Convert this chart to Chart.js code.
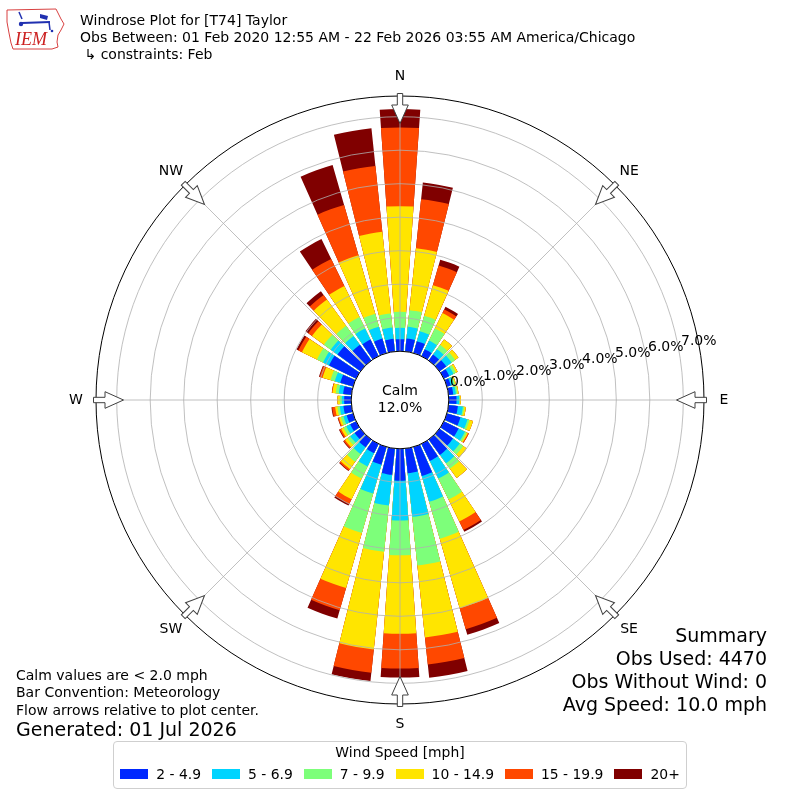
<!DOCTYPE html>
<html>
<head>
<meta charset="utf-8">
<script src="https://cdn.jsdelivr.net/npm/chart.js@4.4.1/dist/chart.umd.min.js"></script>
<style>
html,body{margin:0;padding:0;background:#fff;}
#wrap{position:relative;width:800px;height:800px;overflow:hidden;font-family:'DejaVu Sans',sans-serif;color:#000;}
#c{position:absolute;left:0;top:0;}
.t{position:absolute;white-space:pre;font-size:14px;line-height:16px;}
.b{position:absolute;white-space:pre;font-size:19px;line-height:22px;}
.r{text-align:right;}
#legend{position:absolute;left:113px;top:741px;width:572px;height:46px;border:1px solid #cfcfcf;border-radius:4px;background:#fff;}
#legTitle{position:absolute;left:0;right:0;top:2px;text-align:center;font-size:13.9px;line-height:16px;}
#legItems{position:absolute;left:0;right:0;top:24px;height:16px;display:flex;justify-content:center;align-items:center;font-size:13.9px;line-height:16px;}
.sw{display:inline-block;width:28px;height:10px;margin-right:8px;}
.it{display:flex;align-items:center;white-space:pre;}
.it + .it{margin-left:11px;}
</style>
</head>
<body>
<div id="wrap">
<canvas id="c" width="800" height="800"></canvas>
<svg style="position:absolute;left:0;top:0" width="70" height="55">
  <path d="M7 10 L56 9 L58 13 L61 19 L64 24 L61 30 L58 35 L57 42 L58 47 L52 49 L13 49 L11 43 L9 33 L7 22 Z" fill="none" stroke="#d84040" stroke-width="1"/>
  <path d="M19 12 L22 19" stroke="#2030b0" stroke-width="1.5"/>
  <path d="M22 23 L50 22" stroke="#2030b0" stroke-width="2"/>
  <path d="M40 14 L48 16 L47 20 L40 18 Z" fill="#2030b0"/>
  <circle cx="21" cy="24" r="2.2" fill="#2030b0"/>
  <path d="M49 22 L50 30" stroke="#2030b0" stroke-width="1.5"/>
  <circle cx="52" cy="31" r="1.3" fill="#2030b0"/>
  <text x="15" y="45" font-family="Liberation Serif" font-style="italic" font-size="18" fill="#cc2020">IEM</text>
</svg>
<div class="t" style="left:80px;top:12px">Windrose Plot for [T74] Taylor</div>
<div class="t" style="left:80px;top:29px">Obs Between: 01 Feb 2020 12:55 AM - 22 Feb 2026 03:55 AM America/Chicago</div>
<div class="t" style="left:80px;top:46px"> ↳ constraints: Feb</div>

<div class="b r" style="right:33px;top:624px">Summary</div>
<div class="b r" style="right:33px;top:647px">Obs Used: 4470</div>
<div class="b r" style="right:33px;top:670px">Obs Without Wind: 0</div>
<div class="b r" style="right:33px;top:693px">Avg Speed: 10.0 mph</div>

<div class="t" style="left:16px;top:667px">Calm values are &lt; 2.0 mph</div>
<div class="t" style="left:16px;top:684px">Bar Convention: Meteorology</div>
<div class="t" style="left:16px;top:702px">Flow arrows relative to plot center.</div>
<div class="b" style="left:16px;top:718px">Generated: 01 Jul 2026</div>

<div id="legend"><div id="legTitle">Wind Speed [mph]</div><div id="legItems"></div></div>
</div>
<script>
// ---------------- data ----------------
const directions = [0,10,20,30,40,50,60,70,80,90,100,110,120,130,140,150,160,170,180,190,200,210,220,230,240,250,260,270,280,290,300,310,320,330,340,350];
const compassLabels = ['N','NE','E','SE','S','SW','W','NW'];
const speedBins = ['2 - 4.9','5 - 6.9','7 - 9.9','10 - 14.9','15 - 19.9','20+'];
// percent of observations per direction and speed bin
const bin2to5   = [0.36,0.39,0.37,0.23,0.22,0.25,0.18,0.12,0.14,0.23,0.28,0.42,0.49,0.50,0.57,0.57,0.90,0.74,0.95,0.79,0.55,0.31,0.29,0.22,0.20,0.20,0.24,0.21,0.25,0.40,0.90,0.85,0.58,0.55,0.45,0.38];
const bin5to7   = [0.34,0.35,0.31,0.29,0.20,0.20,0.14,0.08,0.08,0.08,0.15,0.22,0.21,0.25,0.31,0.58,0.80,1.31,1.19,0.92,0.90,0.44,0.25,0.16,0.13,0.10,0.11,0.07,0.13,0.17,0.20,0.25,0.32,0.37,0.37,0.34];
const bin7to10  = [0.48,0.50,0.48,0.40,0.16,0.13,0.08,0.05,0.05,0.02,0.04,0.06,0.06,0.13,0.20,0.70,1.15,1.46,1.04,1.39,1.22,0.40,0.28,0.10,0.09,0.08,0.07,0.06,0.09,0.13,0.20,0.25,0.38,0.38,0.40,0.42];
const bin10to15 = [3.15,1.86,0.95,0.51,0.20,0.12,0.06,0.03,0.03,0.03,0.05,0.11,0.04,0.12,0.34,0.73,2.16,2.16,2.34,2.93,1.71,0.69,0.27,0.09,0.08,0.06,0.07,0.07,0.10,0.25,0.50,0.44,0.97,1.03,1.82,2.45];
const bin15to20 = [2.35,1.47,0.61,0.12,0,0,0,0,0,0,0,0,0.03,0,0,0.28,0.65,0.81,1.04,0.70,0.69,0.16,0.05,0.05,0.05,0.03,0.09,0,0.02,0.09,0.12,0.14,0.17,0.90,1.56,1.98];
const bin20plus = [0.55,0.50,0.18,0.09,0,0,0,0,0,0,0,0,0,0,0,0.06,0.17,0.40,0.27,0.25,0.26,0.05,0.02,0.02,0.02,0.01,0.02,0,0,0.02,0.06,0.10,0.14,0.66,1.24,1.13];
const tickValues = [0,1,2,3,4,5,6,7];
const tickLabels = ['0.0%','1.0%','2.0%','3.0%','4.0%','5.0%','6.0%','7.0%'];
const calmPercent = 12.0;

// ---------------- styling ----------------
const binColors = ['#0028ff','#00d4ff','#7dff7a','#ffe500','#ff4800','#800000'];
const BAR = 8, GAP = 2;            // degrees
const R_MIN = -1.457, R_MAX = 7.618;
const FONT = "'DejaVu Sans', sans-serif";

// legend
const legItems = document.getElementById('legItems');
speedBins.forEach((b, k) => {
  const it = document.createElement('div'); it.className = 'it';
  const sw = document.createElement('span'); sw.className = 'sw'; sw.style.background = binColors[k];
  const tx = document.createElement('span'); tx.textContent = b;
  it.appendChild(sw); it.appendChild(tx); legItems.appendChild(it);
});

// cumulative stacks
const series = [bin2to5, bin5to7, bin7to10, bin10to15, bin15to20, bin20plus];
const cumulative = [];
let run = directions.map(() => 0);
series.forEach(s => { run = run.map((v, i) => v + s[i]); cumulative.push(run.slice()); });

const labels = [];
directions.forEach(d => { labels.push(d + '°'); labels.push(''); });

const datasets = cumulative.map((c, k) => ({
  label: speedBins[k],
  data: c.flatMap(v => [v, 0]),
  backgroundColor: ctx => (ctx.dataIndex % 2 ? 'rgba(0,0,0,0)' : binColors[k]),
  borderWidth: 0,
  angle: ctx => (ctx.dataIndex % 2 ? GAP : BAR)
}));

const decor = {
  id: 'decor',
  afterDatasetsDraw(chart) {
    const s = chart.scales.r, ctx = chart.ctx;
    const cx = s.xCenter, cy = s.yCenter, R = s.drawingArea;
    ctx.save();
    ctx.strokeStyle = '#b0b0b0'; ctx.lineWidth = 0.8;
    compassLabels.forEach((_, i) => {
      const a = (i * 45 - 90) * Math.PI / 180;
      ctx.beginPath(); ctx.moveTo(cx, cy);
      ctx.lineTo(cx + R * Math.cos(a), cy + R * Math.sin(a)); ctx.stroke();
    });
    ctx.restore();
  },
  afterDraw(chart) {
    const s = chart.scales.r, ctx = chart.ctx;
    const cx = s.xCenter, cy = s.yCenter, R = s.drawingArea;
    ctx.save();
    // tick labels
    ctx.fillStyle = '#000'; ctx.font = '14px ' + FONT;
    ctx.textAlign = 'left'; ctx.textBaseline = 'middle';
    const ta = 10 * Math.PI / 180;
    tickValues.forEach((v, i) => {
      const r = s.getDistanceFromCenterForValue(v);
      ctx.fillText(tickLabels[i], cx + r * Math.cos(ta) + 2, cy - r * Math.sin(ta) - 9);
    });
    // calm circle
    const rc = s.getDistanceFromCenterForValue(0);
    ctx.beginPath(); ctx.arc(cx, cy, rc, 0, Math.PI * 2);
    ctx.fillStyle = '#fff'; ctx.fill();
    ctx.lineWidth = 1; ctx.strokeStyle = '#000'; ctx.stroke();
    ctx.fillStyle = '#000'; ctx.textAlign = 'center';
    ctx.fillText('Calm', cx, cy - 9);
    ctx.fillText(calmPercent.toFixed(1) + '%', cx, cy + 8);
    // arrows + compass labels
    compassLabels.forEach((lab, i) => {
      const th = i * 45 * Math.PI / 180;
      ctx.save(); ctx.translate(cx, cy); ctx.rotate(th);
      ctx.beginPath();
      ctx.moveTo(-2.7, -(R + 2.5)); ctx.lineTo(2.7, -(R + 2.5));
      ctx.lineTo(2.7, -(R - 9)); ctx.lineTo(8.3, -(R - 9));
      ctx.lineTo(0, -(R - 27.5)); ctx.lineTo(-8.3, -(R - 9));
      ctx.lineTo(-2.7, -(R - 9)); ctx.closePath();
      ctx.fillStyle = '#fff'; ctx.fill();
      ctx.lineWidth = 1; ctx.strokeStyle = '#404040'; ctx.stroke();
      ctx.restore();
      const lr = R + 20;
      ctx.fillStyle = '#000'; ctx.textAlign = 'center'; ctx.textBaseline = 'middle';
      ctx.fillText(lab, cx + lr * Math.sin(th), cy - lr * Math.cos(th));
    });
    ctx.restore();
  }
};

new Chart(document.getElementById('c'), {
  type: 'polarArea',
  data: { labels, datasets },
  options: {
    responsive: false,
    animation: false,
    layout: { padding: 96 },
    plugins: { legend: { display: false }, tooltip: { enabled: false } },
    scales: {
      r: {
        min: R_MIN, max: R_MAX,
        startAngle: -BAR / 2,
        ticks: { display: false },
        pointLabels: { display: false },
        angleLines: { display: false },
        grid: {
          circular: true, z: 1,
          color: ctx => (ctx.tick && ctx.tick.value === R_MAX ? '#000' : '#b0b0b0'),
          lineWidth: ctx => (ctx.tick && ctx.tick.value === R_MAX ? 1 : 0.8)
        },
        afterBuildTicks: sc => { sc.ticks = tickValues.map(v => ({ value: v })).concat([{ value: R_MAX }]); }
      }
    }
  },
  plugins: [decor]
});
</script>
</body>
</html>
